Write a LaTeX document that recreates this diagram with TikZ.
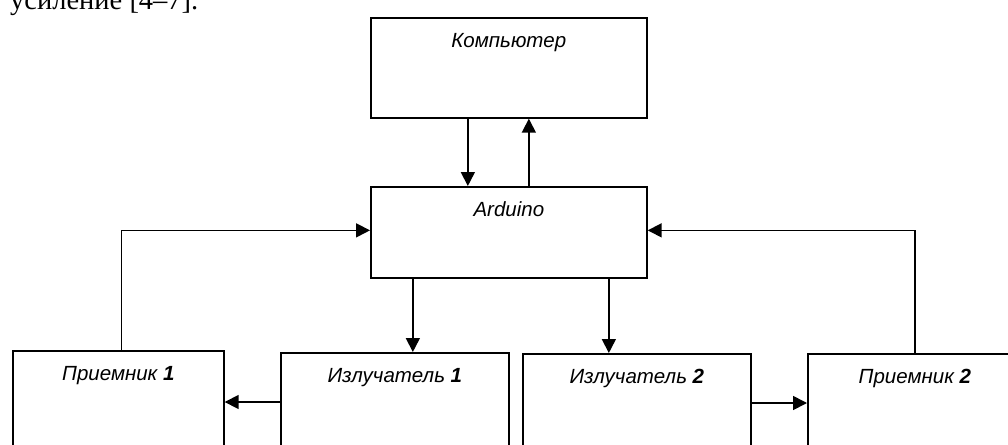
\documentclass[tikz,border=0pt]{standalone}
\usepackage{fontspec}
\setmainfont{Liberation Serif}
\setsansfont{Liberation Sans}
\usetikzlibrary{arrows.meta}

\begin{document}
\begin{tikzpicture}[ x=1pt, y=-1pt,
	blk/.style={ draw, line width=1.7pt, inner sep=0pt, anchor=north west, text height=30pt, font=\sffamily\itshape\fontsize{20.5}{24}\selectfont },
	arr/.style={ line width=1.7pt, -{Triangle[ length=14pt, width=14pt ]} } ]

	\def\depthlow{78pt}

	\useasboundingbox (0, 0) rectangle (1008, 444);
	\clip (0, 0) rectangle (1008, 444);

	\node[ anchor=base west, inner sep=0pt, font=\fontsize{28.5}{32}\selectfont ] (txt) at (10, 10) {усиление [4–7].};

	\node[ blk, minimum width=276pt, text depth=70pt ] (komp) at (370, 17) {Компьютер};
	\node[ blk, minimum width=276pt, text depth=61pt ] (ard) at (370, 186) {Arduino};

	\node[ blk, minimum width=211pt, text depth=\depthlow ] (pr1) at (12, 350) {Приемник \textbf{1}};
	\node[ blk, minimum width=228pt, text depth=\depthlow ] (izl1) at (280, 352) {Излучатель \textbf{1}};
	\node[ blk, minimum width=228pt, text depth=\depthlow ] (izl2) at (522, 353) {Излучатель \textbf{2}};
	\node[ blk, minimum width=214pt, text depth=\depthlow ] (pr2) at (807, 353) {Приемник \textbf{2}};

	% komputer <-> arduino
	\coordinate (k1) at ([ xshift=-41pt ]komp.south);
	\coordinate (k2) at ([ xshift=20pt ]komp.south);
	\draw[ arr ] (k1) -- (k1 |- ard.north);
	\draw[ arr ] (k2 |- ard.north) -- (k2);

	% arduino -> emitters
	\coordinate (a1) at ([ xshift=18pt ]izl1.north);
	\coordinate (a2) at ([ xshift=-28pt ]izl2.north);
	\draw[ arr ] (a1 |- ard.south) -- (a1);
	\draw[ arr ] (a2 |- ard.south) -- (a2);

	% emitters -> receivers
	\coordinate (e1) at ([ yshift=-50pt ]izl1.north west);
	\coordinate (e2) at ([ yshift=-50pt ]izl2.north east);
	\draw[ arr ] (e1) -- (e1 -| pr1.east);
	\draw[ arr ] (e2) -- (e2 -| pr2.west);

	% receivers -> arduino
	\draw[ arr ] ([ xshift=3pt ]pr1.north) |- ([ yshift=2pt ]ard.west);
	\draw[ arr ] (pr2.north) |- ([ yshift=2pt ]ard.east);

\end{tikzpicture}
\end{document}
